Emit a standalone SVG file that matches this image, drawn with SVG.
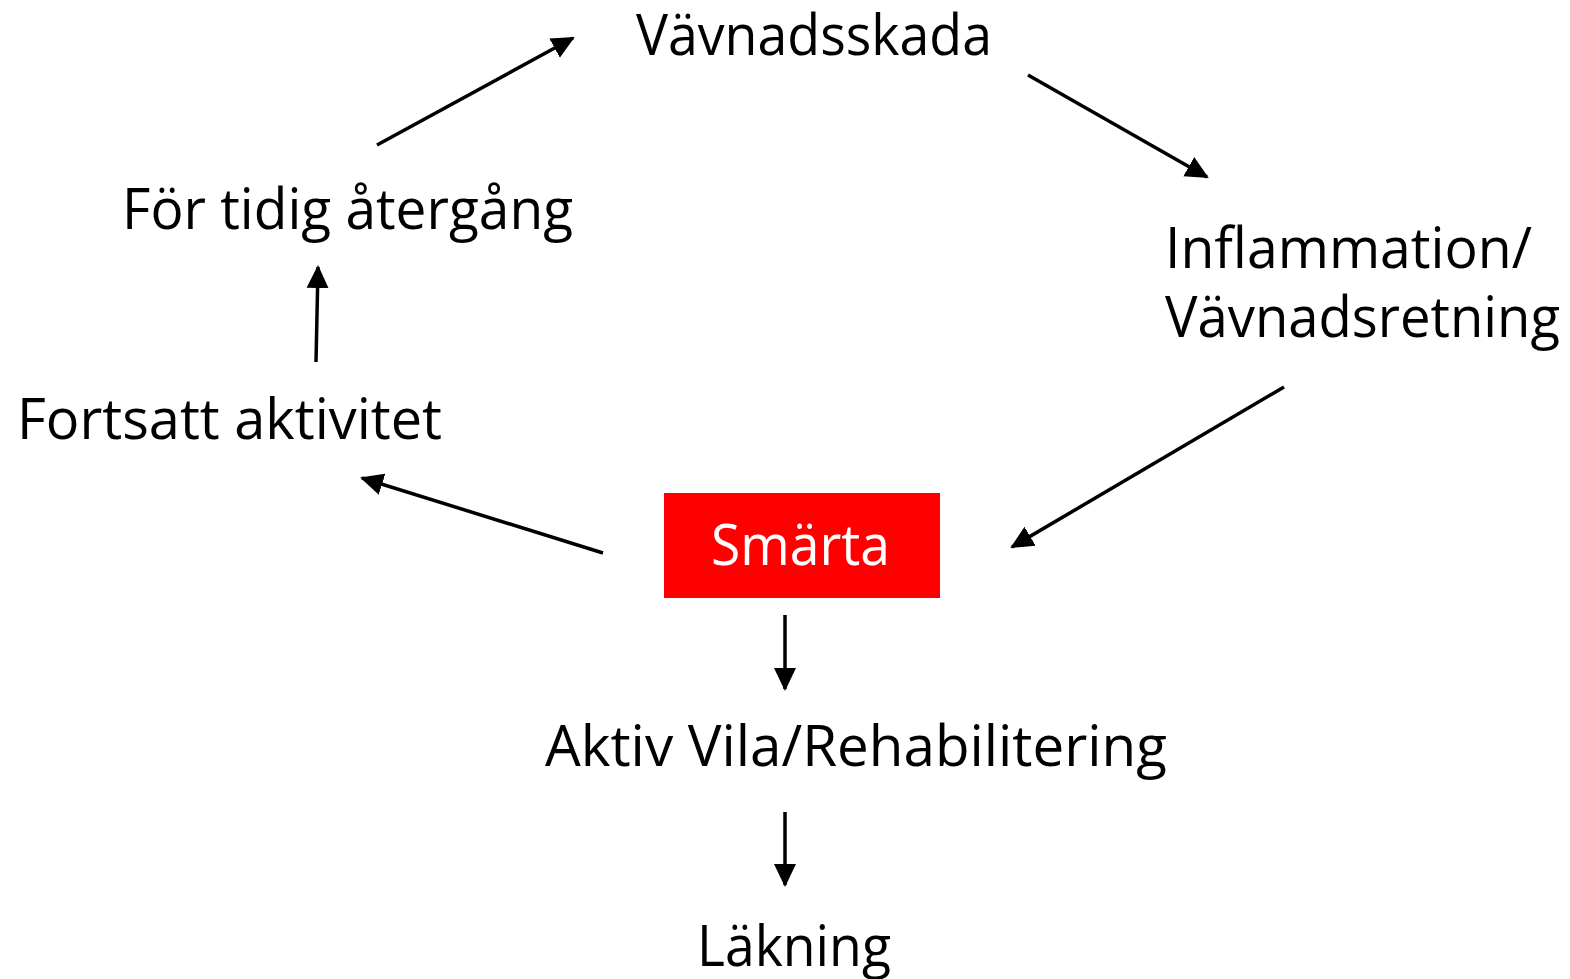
<svg xmlns="http://www.w3.org/2000/svg" width="1570" height="979" viewBox="0 0 1570 979">
<defs>
<style>
.t{font-family:"Open Sans","Liberation Sans",sans-serif;font-size:57px;fill:#000;}
.w{fill:#fff;}
.c{stroke:#000;stroke-width:3.5;fill:none;marker-end:url(#ah);}
</style>
<marker id="ah" markerUnits="userSpaceOnUse" markerWidth="24" markerHeight="24" viewBox="0 0 24 24" refX="21" refY="12" orient="auto">
<path d="M0,1 L23,12 L0,23 z" fill="#000"/>
</marker>
</defs>
<rect width="1570" height="979" fill="#fff"/>
<g id="vavnadsskada"><text class="t" x="636" y="55" textLength="356" lengthAdjust="spacingAndGlyphs">Vävnadsskada</text></g>
<g id="inflammation"><text class="t" x="1165" y="268" textLength="367" lengthAdjust="spacingAndGlyphs">Inflammation/</text><text class="t" x="1165" y="337" textLength="395" lengthAdjust="spacingAndGlyphs">Vävnadsretning</text></g>
<g id="smarta"><rect x="664" y="493" width="276" height="105" fill="#ff0000"/><text class="t w" x="711" y="565" textLength="179" lengthAdjust="spacingAndGlyphs">Smärta</text></g>
<g id="fortsatt"><text class="t" x="17" y="439" textLength="425" lengthAdjust="spacingAndGlyphs">Fortsatt aktivitet</text></g>
<g id="fortidig"><text class="t" x="122" y="229" textLength="451" lengthAdjust="spacingAndGlyphs">För tidig återgång</text></g>
<g id="aktivvila"><text class="t" x="545" y="766" textLength="622" lengthAdjust="spacingAndGlyphs">Aktiv Vila/Rehabilitering</text></g>
<g id="lakning"><text class="t" x="697" y="966" textLength="194" lengthAdjust="spacingAndGlyphs">Läkning</text></g>
<g id="connectors">
<line class="c" x1="377" y1="145" x2="573" y2="38"/>
<line class="c" x1="1028" y1="75" x2="1207" y2="177"/>
<line class="c" x1="1284" y1="387" x2="1012" y2="547"/>
<line class="c" x1="603" y1="553" x2="362" y2="478"/>
<line class="c" x1="785" y1="615" x2="785" y2="689"/>
<line class="c" x1="316" y1="362" x2="318" y2="267"/>
<line class="c" x1="785" y1="812" x2="785" y2="885"/>
</g>
</svg>
